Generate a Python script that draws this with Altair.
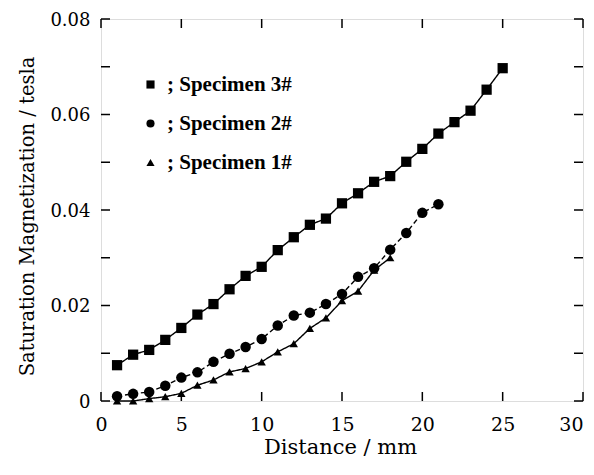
import altair as alt
import pandas as pd

# ---- data ----
dist3 = list(range(1, 26))
spec3 = [0.0075, 0.0097, 0.0107, 0.0128, 0.0153, 0.0181, 0.0203, 0.0234, 0.0262, 0.0281,
         0.0316, 0.0343, 0.0369, 0.0382, 0.0414, 0.0435, 0.0459, 0.0471, 0.0501, 0.0528,
         0.0560, 0.0584, 0.0608, 0.0652, 0.0697]
dist2 = list(range(1, 22))
spec2 = [0.0010, 0.0015, 0.0019, 0.0032, 0.0049, 0.0060, 0.0082, 0.0099, 0.0113, 0.0130,
         0.0158, 0.0179, 0.0185, 0.0203, 0.0224, 0.0260, 0.0278, 0.0317, 0.0352, 0.0394,
         0.0412]
dist1 = list(range(1, 19))
spec1 = [0.0000, 0.0000, 0.0005, 0.0009, 0.0016, 0.0033, 0.0044, 0.0061, 0.0068, 0.0082,
         0.0103, 0.0120, 0.0152, 0.0174, 0.0210, 0.0230, 0.0274, 0.0300]

series_names = ["Specimen 3#", "Specimen 2#", "Specimen 1#"]
series_shapes = ["square", "circle", "triangle-up"]
series_sizes = [105, 110, 70]
series_dash = [[1, 0], [5, 3], [1, 0]]
x_ticks = [0, 5, 10, 15, 20, 25, 30]
y_ticks_major = [0, 0.02, 0.04, 0.06, 0.08]
y_ticks_minor = [0, 0.01, 0.02, 0.03, 0.04, 0.05, 0.06, 0.07, 0.08]

rows = []
for name, xs, ys in zip(series_names, [dist3, dist2, dist1], [spec3, spec2, spec1]):
    for xv, yv in zip(xs, ys):
        rows.append({"x": xv, "y": yv, "series": name})
df = pd.DataFrame(rows)
df_xt = pd.DataFrame({"x": x_ticks})
df_yt = pd.DataFrame({"y": y_ticks_minor})

W, H = 482, 382
SERIF = "DejaVu Serif"
TL = 9

x_scale = alt.Scale(domain=[0, 30], nice=False, zero=False)
y_scale = alt.Scale(domain=[0, 0.08], nice=False, zero=False)

x_enc = alt.X("x:Q", scale=x_scale, axis=alt.Axis(
    values=x_ticks, format="d", title="Distance / mm", ticks=False, domain=False, grid=False,
    labelFont=SERIF, labelFontSize=19, labelColor="black", labelPadding=14, labelFlush=False,
    labelAlign={"condition": {"test": "datum.value == 30", "value": "right"}, "value": "center"},
    titleFont=SERIF, titleFontSize=21, titleFontWeight="normal", titleColor="black",
    titleX=239, titleY=52, titleBaseline="alphabetic", titleAlign="center"))
y_enc = alt.Y("y:Q", scale=y_scale, axis=alt.Axis(
    values=y_ticks_major, labelExpr="datum.value == 0 ? '0' : format(datum.value, '.2f')",
    title="Saturation Magnetization / tesla", ticks=False, domain=False, grid=False,
    labelFont=SERIF, labelFontSize=18, labelColor="black", labelPadding=11, labelFlush=False,
    labelOffset=1,
    titleFont=SERIF, titleFontSize=19.5, titleFontWeight="normal", titleColor="black",
    titleX=-68, titleY=197, titleAngle=270, titleBaseline="alphabetic", titleAlign="center"))

shape_enc = alt.Shape("series:N", scale=alt.Scale(domain=series_names, range=series_shapes),
                      legend=alt.Legend(title=None, orient="none", legendX=39, legendY=55,
                                        symbolSize=66, symbolFillColor="black",
                                        symbolStrokeColor="black", symbolStrokeWidth=0,
                                        labelFont="Liberation Serif", labelFontSize=21,
                                        labelFontWeight="bold",
                                        labelColor="black", labelOffset=6, rowPadding=17,
                                        padding=0, labelExpr="'; ' + datum.label"))

layers = []
for name, dash in zip(series_names, series_dash):
    layers.append(alt.Chart(df).transform_filter(alt.datum.series == name)
                  .mark_line(color="black", strokeWidth=1.4, strokeDash=dash)
                  .encode(x=x_enc, y=y_enc))
for name, size in zip(series_names, series_sizes):
    layers.append(alt.Chart(df).transform_filter(alt.datum.series == name)
                  .mark_point(filled=True, color="black", opacity=1, size=size)
                  .encode(x=x_enc, y=y_enc, shape=shape_enc))

tick_bottom = alt.Chart(df_xt).mark_rule(color="black", strokeWidth=1.5).encode(
    x=x_enc, y=alt.value(H), y2=alt.value(H - TL))
tick_top = alt.Chart(df_xt).mark_rule(color="black", strokeWidth=1.5).encode(
    x=x_enc, y=alt.value(0), y2=alt.value(TL))
tick_left = alt.Chart(df_yt).mark_rule(color="black", strokeWidth=1.5).encode(
    y=y_enc, x=alt.value(0), x2=alt.value(TL))
tick_right = alt.Chart(df_yt).mark_rule(color="black", strokeWidth=1.5).encode(
    y=y_enc, x=alt.value(W), x2=alt.value(W - TL))

chart = alt.layer(tick_bottom, tick_top, tick_left, tick_right, *layers).properties(
    width=W, height=H,
    autosize=alt.AutoSizeParams(type="none"),
    padding={"left": 93, "top": 11, "right": 3, "bottom": 64},
).configure_view(stroke="black", strokeWidth=2.2).configure(background="white")

chart.save("out.html", embed_options={"renderer": "svg", "actions": False})
